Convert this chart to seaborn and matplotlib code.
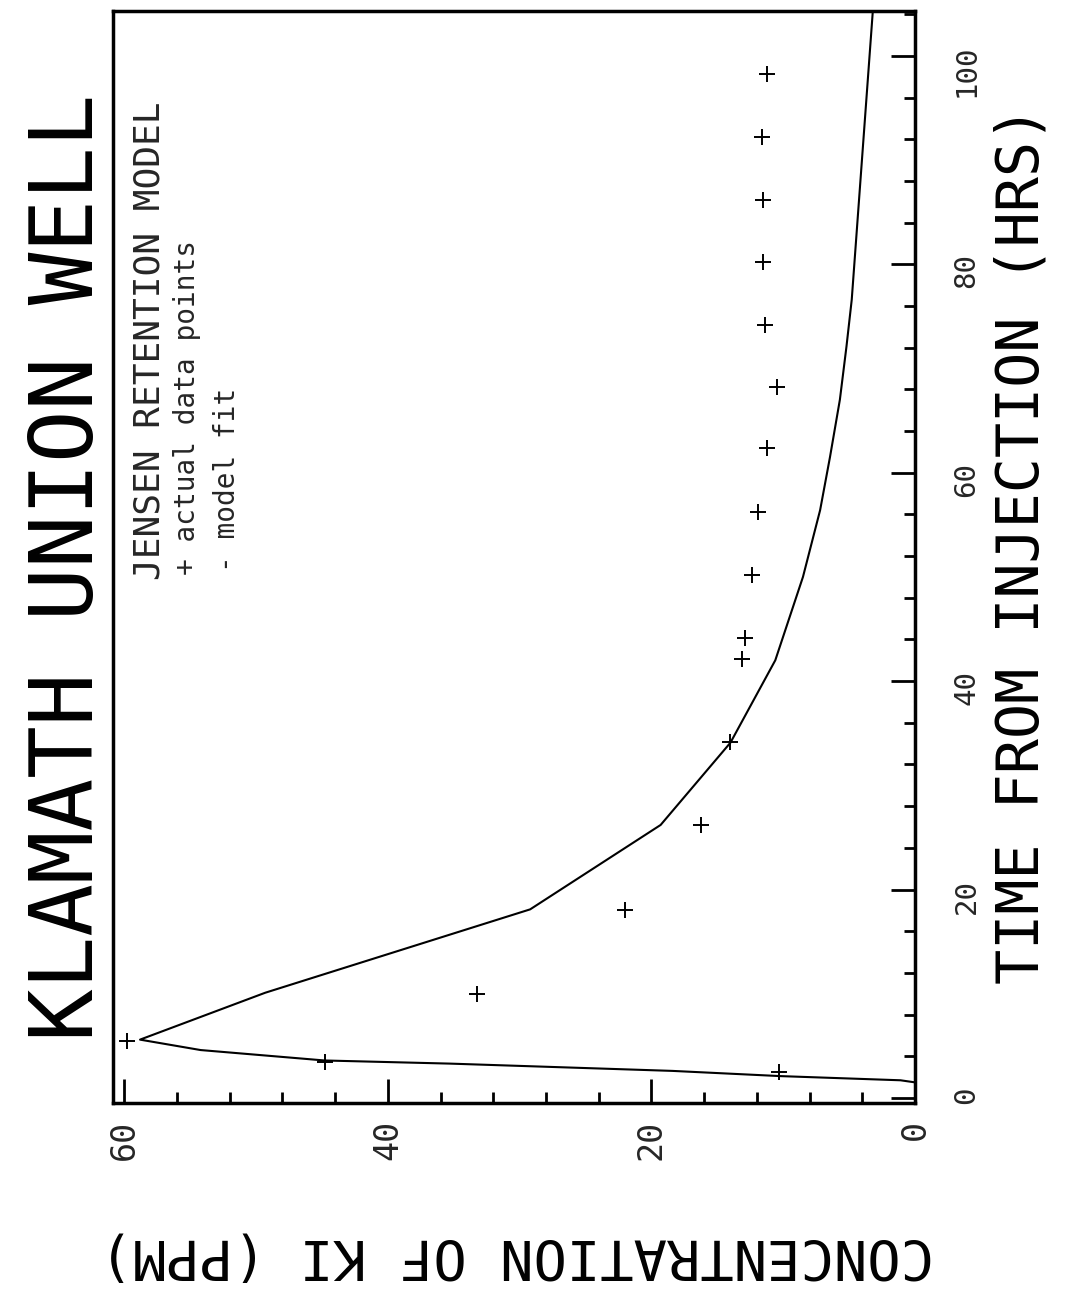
import matplotlib
matplotlib.use("Agg")
import matplotlib.pyplot as plt
import seaborn as sns
import pandas as pd
from matplotlib.ticker import MultipleLocator

# ---- data (time in hours, concentration of KI in ppm) ----
time_pts = [2.5, 3.5, 5.5, 10.0, 18.0, 26.2, 34.2, 42.1, 44.1, 50.2, 56.2,
            62.4, 68.2, 74.2, 80.2, 86.2, 92.2, 98.3]
conc_pts = [10.3, 44.8, 59.8, 33.2, 22.0, 16.2, 14.0, 13.1, 12.9, 12.4, 11.9,
            11.2, 10.5, 11.4, 11.5, 11.5, 11.6, 11.2]

model_time = [1.5, 1.7, 2.1, 2.6, 3.3, 3.6, 4.6, 5.6, 10.1, 18.1, 26.2, 34.1,
              42.0, 50.0, 56.4, 61.5, 67.0, 72.1, 76.6, 104.3]
model_conc = [0.0, 1.1, 10.2, 18.4, 35.3, 44.8, 54.2, 58.8, 49.3, 29.2, 19.3,
              14.0, 10.6, 8.5, 7.2, 6.45, 5.7, 5.2, 4.8, 3.2]

title = "KLAMATH UNION WELL"
time_label = "TIME FROM INJECTION (HRS)"
conc_label = "CONCENTRATION OF KI (PPM)"
legend_lines = ["JENSEN RETENTION MODEL", "+ actual data points", "- model fit"]

pts = pd.DataFrame({"time": time_pts, "conc": conc_pts})
model = pd.DataFrame({"time": model_time, "conc": model_conc})

sns.set_theme(style="white")
plt.rcParams["font.family"] = ["DejaVu Sans Mono", "DejaVu Sans"]

W, H = 1066, 1293
fig = plt.figure(figsize=(W / 100, H / 100), dpi=100)
fig.patch.set_facecolor("white")

x0, x1, ytop, ybot = 113, 915, 11, 1103
ax = fig.add_axes([x0 / W, 1 - ybot / H, (x1 - x0) / W, (ybot - ytop) / H])

sns.lineplot(data=model, x="conc", y="time", sort=False, estimator=None,
             color="black", linewidth=1.5, ax=ax)
sns.scatterplot(data=pts, x="conc", y="time", marker="+", s=130,
                color="black", linewidth=1.4, ax=ax)

ax.set_xlim(60.85, 0)
ax.set_ylim(-0.48, 104.3)
ax.set_xlabel("")
ax.set_ylabel("")
ax.grid(False)

ax.xaxis.set_major_locator(MultipleLocator(20))
ax.xaxis.set_minor_locator(MultipleLocator(4))
ax.yaxis.set_major_locator(MultipleLocator(20))
ax.yaxis.set_minor_locator(MultipleLocator(4))
ax.yaxis.tick_right()

for sp in ax.spines.values():
    sp.set_color("black")
    sp.set_linewidth(2.5)

ax.tick_params(which="both", direction="in", color="black", width=2,
               bottom=True, top=False, left=False, right=True)
ax.tick_params(which="major", length=17)
ax.tick_params(which="minor", length=8)
ax.tick_params(axis="x", which="major", labelsize=24, labelrotation=90, pad=12)
ax.tick_params(axis="y", which="major", labelsize=21, labelrotation=90, pad=27)

fig.text(69 / W, 1 - 567 / H, title, rotation=90, ha="center", va="center",
         fontsize=63, color="black")
fig.text(1022 / W, 1 - 545 / H, time_label, rotation=90, ha="center",
         va="center", fontsize=42, color="black")
fig.text(517 / W, 1 - 1255 / H, conc_label, rotation=180, ha="center",
         va="center", fontsize=40, color="black")

fig.text(150 / W, 1 - 580 / H, legend_lines[0], rotation=90,
         rotation_mode="anchor", ha="left", va="center", fontsize=26)
fig.text(187 / W, 1 - 575 / H, legend_lines[1], rotation=90,
         rotation_mode="anchor", ha="left", va="center", fontsize=20)
fig.text(227 / W, 1 - 572 / H, legend_lines[2], rotation=90,
         rotation_mode="anchor", ha="left", va="center", fontsize=20)

fig.savefig("out.png", dpi=100, facecolor="white")
